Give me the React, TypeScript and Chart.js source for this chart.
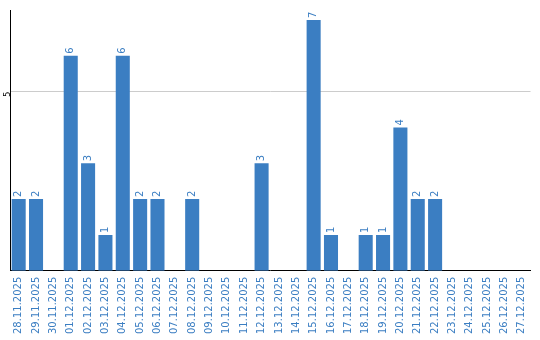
import React, { useEffect, useRef } from "react";
import { Chart, registerables } from "chart.js";

Chart.register(...registerables);

const categories = [
  "28.11.2025", "29.11.2025", "30.11.2025", "01.12.2025", "02.12.2025", "03.12.2025",
  "04.12.2025", "05.12.2025", "06.12.2025", "07.12.2025", "08.12.2025", "09.12.2025",
  "10.12.2025", "11.12.2025", "12.12.2025", "13.12.2025", "14.12.2025", "15.12.2025",
  "16.12.2025", "17.12.2025", "18.12.2025", "19.12.2025", "20.12.2025", "21.12.2025",
  "22.12.2025", "23.12.2025", "24.12.2025", "25.12.2025", "26.12.2025", "27.12.2025",
];
const values = [2, 2, 0, 6, 3, 1, 6, 2, 2, 0, 2, 0, 0, 0, 3, 0, 0, 7, 1, 0, 1, 1, 4, 2, 2, 0, 0, 0, 0, 0];
const yTickValues = [5];

const BLUE = "#3b7ec2";

const valueLabels = {
  id: "valueLabels",
  afterDatasetsDraw(chart: any) {
    const ctx = chart.ctx;
    const meta = chart.getDatasetMeta(0);
    ctx.save();
    ctx.fillStyle = BLUE;
    ctx.font = "10px 'DejaVu Sans'";
    ctx.textAlign = "left";
    ctx.textBaseline = "middle";
    meta.data.forEach((bar: any, i: number) => {
      const v = values[i];
      if (!v) return;
      ctx.save();
      ctx.translate(bar.x, bar.y - 2);
      ctx.rotate(-Math.PI / 2);
      ctx.fillText(String(v), 0, 0);
      ctx.restore();
    });
    ctx.restore();
  },
};

export default function App() {
  const ref = useRef<HTMLCanvasElement | null>(null);
  useEffect(() => {
    document.body.style.margin = "0";
    const chart = new Chart(ref.current!, {
      type: "bar",
      data: {
        labels: categories,
        datasets: [
          {
            data: values,
            backgroundColor: BLUE,
            borderWidth: 0,
            categoryPercentage: 1,
            barPercentage: 0.81,
          },
        ],
      },
      options: {
        animation: false,
        responsive: false,
        maintainAspectRatio: false,
        layout: { padding: { top: 10, right: 9, left: 0, bottom: 0 } },
        plugins: { legend: { display: false }, tooltip: { enabled: false } },
        scales: {
          x: {
            grid: { display: false, drawTicks: false },
            border: { color: "#000", width: 1 },
            ticks: {
              color: BLUE,
              font: { family: "'DejaVu Sans'", size: 10 },
              minRotation: 90,
              maxRotation: 90,
              autoSkip: false,
              padding: 6,
            },
          },
          y: {
            min: 0,
            max: 7.28,
            afterBuildTicks: (scale: any) => {
              scale.ticks = yTickValues.map((v) => ({ value: v }));
            },
            afterFit: (scale: any) => {
              scale.width = 10;
            },
            grid: { color: "#cccccc", drawTicks: false },
            border: { color: "#000", width: 1 },
            ticks: {
              color: "#000",
              font: { family: "'DejaVu Sans'", size: 8 },
              minRotation: 90,
              maxRotation: 90,
              padding: 2,
            },
          },
        },
      },
      plugins: [valueLabels],
    });
    return () => chart.destroy();
  }, []);
  return (
    <div style={{ position: "absolute", left: 0, top: 0, width: 540, height: 340 }}>
      <canvas ref={ref} width={540} height={340} />
    </div>
  );
}
